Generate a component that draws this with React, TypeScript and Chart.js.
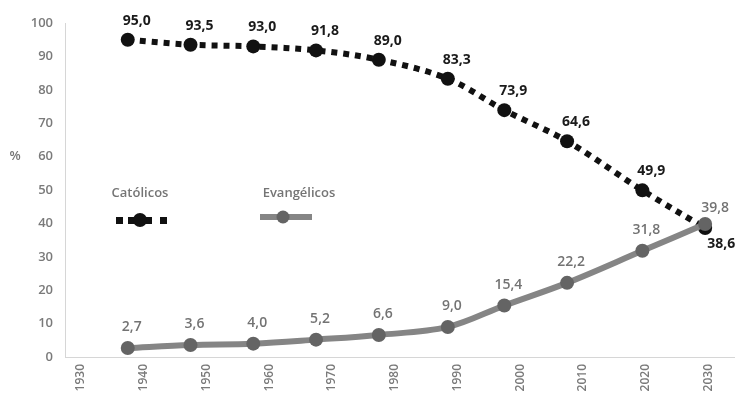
import { useEffect, useRef } from 'react';
import { Chart, registerables } from 'chart.js';

Chart.register(...registerables);

// Census years (plus projections) and share of the population, in %
const years = [1940, 1950, 1960, 1970, 1980, 1991, 2000, 2010, 2022, 2032];
const catolicos = [95.0, 93.5, 93.0, 91.8, 89.0, 83.3, 73.9, 64.6, 49.9, 38.6];
const evangelicos = [2.7, 3.6, 4.0, 5.2, 6.6, 9.0, 15.4, 22.2, 31.8, 39.8];
const xTickLabels = [1930, 1940, 1950, 1960, 1970, 1980, 1990, 2000, 2010, 2020, 2030];
const seriesNames = ['Católicos', 'Evangélicos'];
const yTitle = '%';

const FONT = "'Open Sans', 'Noto Sans', sans-serif";
const BLACK = '#111111';
const GRAY_LINE = '#858585';
const GRAY_POINT = '#646464';
const TEXT_GRAY = '#757575';
const TICK_GRAY = '#7a7a7a';

const fmt = (v: number) => v.toFixed(1).replace('.', ',');

// Value labels next to every point
const valueLabels = {
  id: 'valueLabels',
  afterDatasetsDraw(chart: any) {
    const ctx = chart.ctx;
    ctx.save();
    ctx.textAlign = 'center';
    ctx.textBaseline = 'middle';
    chart.data.datasets.forEach((ds: any, i: number) => {
      const meta = chart.getDatasetMeta(i);
      const isCat = ds.label === seriesNames[0];
      meta.data.forEach((pt: any, j: number) => {
        const last = j === meta.data.length - 1;
        const v = ds.data[j].y;
        let dx: number, dy: number;
        if (isCat) {
          ctx.font = `bold 14px ${FONT}`;
          ctx.fillStyle = '#1a1a1a';
          dx = last ? 16 : 9;
          dy = last ? 16 : -19;
        } else {
          ctx.font = `600 14px ${FONT}`;
          ctx.fillStyle = '#737373';
          dx = last ? 10 : 4;
          dy = last ? -16 : -21;
        }
        ctx.fillText(fmt(v), pt.x + dx, pt.y + dy);
      });
    });
    ctx.restore();
  },
};

// Legend drawn inside the plot, plus the horizontal "%" axis caption
const innerLegend = {
  id: 'innerLegend',
  afterDraw(chart: any) {
    const ctx = chart.ctx;
    ctx.save();
    ctx.textAlign = 'center';
    ctx.textBaseline = 'middle';
    ctx.font = `600 13px ${FONT}`;
    ctx.fillStyle = TEXT_GRAY;
    ctx.fillText(seriesNames[0], 140, 193);
    ctx.fillText(seriesNames[1], 299, 193);

    // Católicos sample: dashed black line with a dot
    ctx.fillStyle = BLACK;
    ctx.fillRect(116, 217, 7, 7);
    ctx.fillRect(160, 217, 7, 7);
    ctx.fillRect(128, 217, 24, 7);
    ctx.beginPath();
    ctx.arc(140, 220, 7, 0, Math.PI * 2);
    ctx.fill();

    // Evangélicos sample: solid gray line with a dot
    ctx.strokeStyle = GRAY_LINE;
    ctx.lineWidth = 6;
    ctx.lineCap = 'butt';
    ctx.beginPath();
    ctx.moveTo(260, 217);
    ctx.lineTo(312, 217);
    ctx.stroke();
    ctx.fillStyle = GRAY_POINT;
    ctx.beginPath();
    ctx.arc(283, 217, 6.5, 0, Math.PI * 2);
    ctx.fill();

    // "%" caption beside the y axis
    const yScale = chart.scales.y;
    ctx.font = `600 13px ${FONT}`;
    ctx.fillStyle = TEXT_GRAY;
    ctx.fillText(yTitle, 15, yScale.getPixelForValue(60));
    ctx.restore();
  },
};

export default function App() {
  const canvasRef = useRef<HTMLCanvasElement | null>(null);

  useEffect(() => {
    document.body.style.margin = '0';
    const canvas = canvasRef.current;
    if (!canvas) return;

    const chart = new Chart(canvas, {
      type: 'line',
      data: {
        datasets: [
          {
            label: seriesNames[0],
            data: years.map((x, i) => ({ x, y: catolicos[i] })),
            borderColor: BLACK,
            backgroundColor: BLACK,
            borderWidth: 6,
            borderDash: [6, 6],
            borderCapStyle: 'butt',
            tension: 0.35,
            pointRadius: 7,
            pointBackgroundColor: BLACK,
            pointBorderWidth: 0,
            clip: false,
            order: 1,
          },
          {
            label: seriesNames[1],
            data: years.map((x, i) => ({ x, y: evangelicos[i] })),
            borderColor: GRAY_LINE,
            backgroundColor: GRAY_POINT,
            borderWidth: 6,
            tension: 0.35,
            pointRadius: 7,
            pointBackgroundColor: GRAY_POINT,
            pointBorderWidth: 0,
            clip: false,
            order: 0,
          },
        ],
      },
      options: {
        animation: false,
        responsive: true,
        maintainAspectRatio: false,
        layout: { padding: { top: 23, right: 0, left: 0, bottom: 0 } },
        plugins: {
          legend: { display: false },
          tooltip: { enabled: false },
        },
        scales: {
          x: {
            type: 'linear',
            min: 1930,
            max: 2036.6,
            afterBuildTicks: (scale: any) => {
              scale.ticks = xTickLabels.map((v) => ({ value: v }));
            },
            afterFit: (scale: any) => {
              scale.height = 39;
            },
            grid: { display: false, drawTicks: false },
            border: { display: true, color: '#d6d6d6', width: 1 },
            ticks: {
              autoSkip: false,
              minRotation: 90,
              maxRotation: 90,
              padding: 7,
              labelOffset: 16,
              color: TICK_GRAY,
              font: { family: FONT, size: 12, weight: '600' },
              callback: (v: any) => String(v),
            },
          },
          y: {
            min: 0,
            max: 100,
            afterFit: (scale: any) => {
              scale.width = 65;
            },
            grid: { display: false, drawTicks: false },
            border: { display: true, color: '#d6d6d6', width: 1 },
            ticks: {
              stepSize: 10,
              padding: 12,
              color: TICK_GRAY,
              font: { family: FONT, size: 13, weight: '600' },
            },
          },
        },
      },
      plugins: [valueLabels, innerLegend],
    } as any);

    return () => chart.destroy();
  }, []);

  return (
    <div style={{ position: 'relative', width: 741, height: 396 }}>
      <canvas ref={canvasRef} />
    </div>
  );
}
